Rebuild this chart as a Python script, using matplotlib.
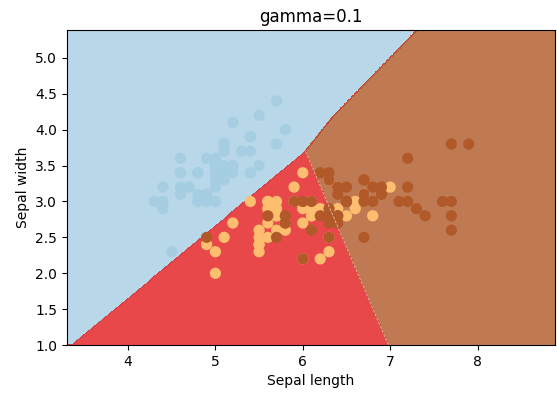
import matplotlib

matplotlib.use('Agg')
import matplotlib.pyplot as plt
import numpy as np

# Iris, first two features (sepal length, sepal width)
setosa_len = [5.1, 4.9, 4.7, 4.6, 5.0, 5.4, 4.6, 5.0, 4.4, 4.9, 5.4, 4.8, 4.8, 4.3, 5.8, 5.7, 5.4, 5.1, 5.7, 5.1,
              5.4, 5.1, 4.6, 5.1, 4.8, 5.0, 5.0, 5.2, 5.2, 4.7, 4.8, 5.4, 5.2, 5.5, 4.9, 5.0, 5.5, 4.9, 4.4, 5.1,
              5.0, 4.5, 4.4, 5.0, 5.1, 4.8, 5.1, 4.6, 5.3, 5.0]
setosa_wid = [3.5, 3.0, 3.2, 3.1, 3.6, 3.9, 3.4, 3.4, 2.9, 3.1, 3.7, 3.4, 3.0, 3.0, 4.0, 4.4, 3.9, 3.5, 3.8, 3.8,
              3.4, 3.7, 3.6, 3.3, 3.4, 3.0, 3.4, 3.5, 3.4, 3.2, 3.1, 3.4, 4.1, 4.2, 3.1, 3.2, 3.5, 3.6, 3.0, 3.4,
              3.5, 2.3, 3.2, 3.5, 3.8, 3.0, 3.8, 3.2, 3.7, 3.3]
versicolor_len = [7.0, 6.4, 6.9, 5.5, 6.5, 5.7, 6.3, 4.9, 6.6, 5.2, 5.0, 5.9, 6.0, 6.1, 5.6, 6.7, 5.6, 5.8, 6.2, 5.6,
                  5.9, 6.1, 6.3, 6.1, 6.4, 6.6, 6.8, 6.7, 6.0, 5.7, 5.5, 5.5, 5.8, 6.0, 5.4, 6.0, 6.7, 6.3, 5.6, 5.5,
                  5.5, 6.1, 5.8, 5.0, 5.6, 5.7, 5.7, 6.2, 5.1, 5.7]
versicolor_wid = [3.2, 3.2, 3.1, 2.3, 2.8, 2.8, 3.3, 2.4, 2.9, 2.7, 2.0, 3.0, 2.2, 2.9, 2.9, 3.1, 3.0, 2.7, 2.2, 2.5,
                  3.2, 2.8, 2.5, 2.8, 2.9, 3.0, 2.8, 3.0, 2.9, 2.6, 2.4, 2.4, 2.7, 2.7, 3.0, 3.4, 3.1, 2.3, 3.0, 2.5,
                  2.6, 3.0, 2.6, 2.3, 2.7, 3.0, 2.9, 2.9, 2.5, 2.8]
virginica_len = [6.3, 5.8, 7.1, 6.3, 6.5, 7.6, 4.9, 7.3, 6.7, 7.2, 6.5, 6.4, 6.8, 5.7, 5.8, 6.4, 6.5, 7.7, 7.7, 6.0,
                 6.9, 5.6, 7.7, 6.3, 6.7, 7.2, 6.2, 6.1, 6.4, 7.2, 7.4, 7.9, 6.4, 6.3, 6.1, 7.7, 6.3, 6.4, 6.0, 6.9,
                 6.7, 6.9, 5.8, 6.8, 6.7, 6.7, 6.3, 6.5, 6.2, 5.9]
virginica_wid = [3.3, 2.7, 3.0, 2.9, 3.0, 3.0, 2.5, 2.9, 2.5, 3.6, 3.2, 2.7, 3.0, 2.5, 2.8, 3.2, 3.0, 3.8, 2.6, 2.2,
                 3.2, 2.8, 2.8, 2.7, 3.3, 3.2, 2.8, 3.0, 2.8, 3.0, 2.8, 3.8, 2.8, 2.8, 2.6, 3.0, 3.4, 3.1, 3.0, 3.1,
                 3.1, 3.1, 2.7, 3.2, 3.3, 3.0, 2.5, 3.0, 3.4, 3.0]

# Decision boundaries
upper_bound_x = [3.36, 6.03, 6.35, 7.32, 9.0]   # setosa above this polyline
upper_bound_y = [1.0, 3.70, 4.19, 5.40, 7.6]
split_y = [1.0, 3.70]                             # versicolor / virginica split
split_x = [6.98, 6.03]

region_colors = ['#a6cee3', '#e31a1c', '#b15928']

X = np.array(setosa_len + versicolor_len + virginica_len)
Y = np.array(setosa_wid + versicolor_wid + virginica_wid)
labels = np.repeat([0, 1, 2], 50)

h = 0.01
x_min, x_max = X.min() - 1, X.max() + 1
y_min, y_max = Y.min() - 1, Y.max() + 1
xx, yy = np.meshgrid(np.arange(x_min, x_max, h), np.arange(y_min, y_max, h))

upper = np.interp(xx, upper_bound_x, upper_bound_y)
split = np.interp(yy, split_y, split_x)
Z = np.where(yy > upper, 0, np.where(xx > split, 2, 1))

fig, ax = plt.subplots(figsize=(5.57, 3.98), dpi=100)
fig.subplots_adjust(left=0.12, right=0.997, bottom=0.133, top=0.925)

ax.contourf(xx, yy, Z, levels=[-0.5, 0.5, 1.5, 2.5], colors=region_colors, alpha=0.8)
# faint seam between the red and brown regions
ax.plot(split_x, split_y, color='white', ls='--', lw=0.6, alpha=0.6)
ax.scatter(X, Y, c=labels, cmap=plt.cm.Paired, s=50)

ax.set_xlim(xx.min(), xx.max())
ax.set_ylim(yy.min(), yy.max())
ax.set_yticks(np.arange(1.0, 5.01, 0.5))
ax.set_xlabel('Sepal length')
ax.set_ylabel('Sepal width')
ax.set_title('gamma=0.1')

fig.savefig('out.png')
